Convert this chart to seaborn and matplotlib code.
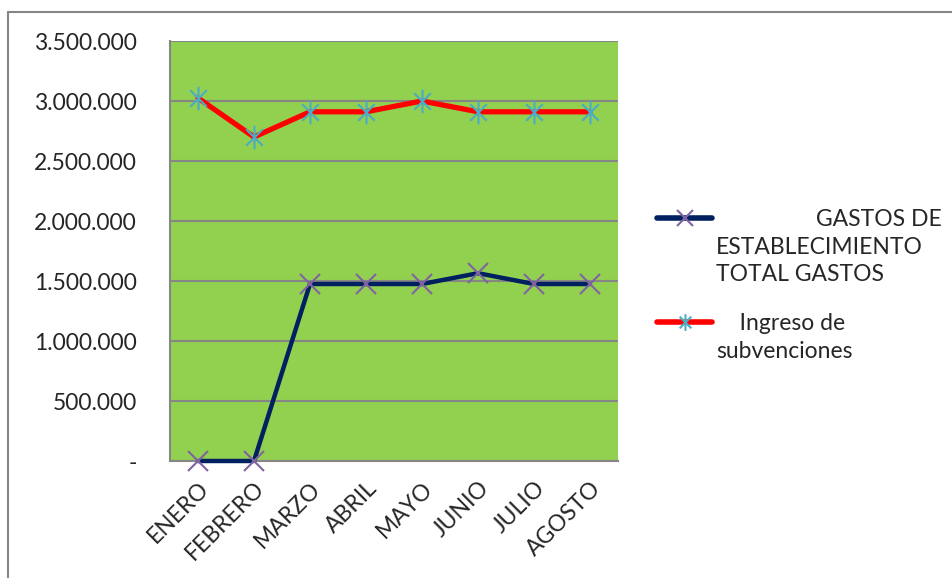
import seaborn as sns
import matplotlib.pyplot as plt
import pandas as pd
from matplotlib.path import Path
from matplotlib.ticker import FuncFormatter, FixedLocator
from matplotlib.lines import Line2D

meses = ["ENERO", "FEBRERO", "MARZO", "ABRIL", "MAYO", "JUNIO", "JULIO", "AGOSTO"]
gastos = [0, 0, 1475000, 1475000, 1475000, 1565000, 1475000, 1475000]
ingresos = [3025000, 2700000, 2910000, 2910000, 3000000, 2910000, 2910000, 2910000]
etiqueta_gastos = "                 GASTOS DE\nESTABLECIMIENTO\nTOTAL GASTOS"
etiqueta_ingresos = "    Ingreso de\nsubvenciones"

sns.set_style("white")
plt.rcParams['font.family'] = ['Lato', 'DejaVu Sans']
FS = 16.5

# asterisco tipo Excel: vertical + dos diagonales
asterisco = Path([(0, -1), (0, 1), (-0.7, -0.7), (0.7, 0.7), (-0.7, 0.7), (0.7, -0.7)],
                 [Path.MOVETO, Path.LINETO, Path.MOVETO, Path.LINETO, Path.MOVETO, Path.LINETO])

df = pd.DataFrame({"pos": range(len(meses)), "gastos": gastos, "ingresos": ingresos})

fig = plt.figure(figsize=(9.52, 5.78), dpi=100)
ax = fig.add_axes([170 / 952, 1 - 461 / 578, 448 / 952, 420 / 578])
ax.set_facecolor("#92D050")

sns.lineplot(data=df, x="pos", y="gastos", ax=ax, color="#002060", lw=3.2, clip_on=False,
             zorder=3, marker="x", markersize=15, markeredgecolor="#8064A2",
             markeredgewidth=1.5)
sns.lineplot(data=df, x="pos", y="ingresos", ax=ax, color="#FF0000", lw=3.8, clip_on=False,
             zorder=3, marker=asterisco, markersize=17, markeredgecolor="#4BACC6",
             markeredgewidth=1.5)

ax.set_xlim(-0.5, len(meses) - 0.5)
ax.set_ylim(0, 3500000)
ax.set_yticks(range(0, 3500001, 500000))
ax.yaxis.set_major_formatter(FuncFormatter(
    lambda v, p: "-" if v == 0 else f"{int(v):,}".replace(",", ".")))
ax.grid(axis="y", color="#868686", lw=1.5)
ax.set_axisbelow(True)

ax.xaxis.set_major_locator(FixedLocator([i - 0.5 for i in range(len(meses) + 1)]))
ax.xaxis.set_major_formatter(FuncFormatter(lambda v, p: ""))
ax.xaxis.set_minor_locator(FixedLocator(list(range(len(meses)))))
ax.set_xticklabels(meses, minor=True, rotation=45, ha="right", rotation_mode="anchor")
ax.tick_params(axis="x", which="minor", length=0, labelsize=FS, pad=12)
ax.tick_params(axis="x", which="major", length=8, width=1.5, color="#868686", direction="out")
ax.tick_params(axis="y", length=10, width=1.5, color="#868686", labelsize=FS, pad=14, direction="out")
ax.set_xlabel("")
ax.set_ylabel("")

for s in ["top", "right"]:
    ax.spines[s].set_visible(False)
for s in ["left", "bottom"]:
    ax.spines[s].set_color("#868686")
    ax.spines[s].set_linewidth(1.5)

# leyenda al estilo Excel: símbolo alineado con la primera línea del texto
leyenda = [
    (etiqueta_gastos, 218, dict(color="#002060", marker="x", markersize=11,
                                markeredgecolor="#8064A2")),
    (etiqueta_ingresos, 322, dict(color="#FF0000", marker=asterisco, markersize=12,
                                  markeredgecolor="#4BACC6")),
]
for texto, ypx, estilo in leyenda:
    y = 1 - ypx / 578
    fig.add_artist(Line2D([657 / 952, 684.5 / 952, 712 / 952], [y, y, y], lw=4,
                          solid_capstyle="round", markevery=[1], markeredgewidth=1.5, **estilo))
    fig.text(716 / 952, 1 - (ypx - 9) / 578, texto, fontsize=FS, va="top", ha="left",
             linespacing=1.39)

# borde del área del gráfico
fig.add_artist(Line2D([8 / 952, 1], [1 - 12 / 578, 1 - 12 / 578], color="#868686", lw=1.5))
fig.add_artist(Line2D([8 / 952, 8 / 952], [0, 1 - 12 / 578], color="#868686", lw=1.5))

fig.savefig("out.png", dpi=100)
